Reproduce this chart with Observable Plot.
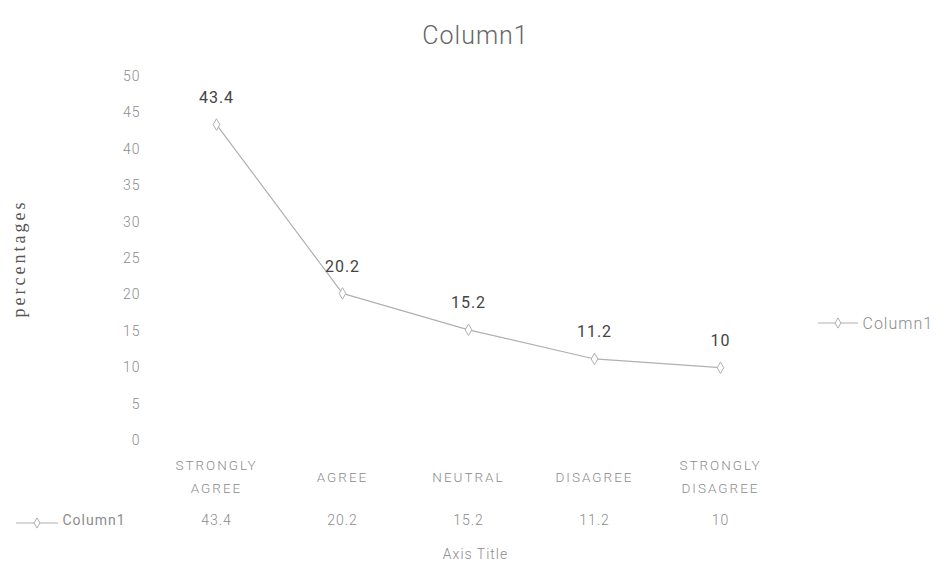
<!DOCTYPE html>
<html>
<head>
<meta charset="utf-8">
<script src="https://cdn.jsdelivr.net/npm/d3@7"></script>
<script src="https://cdn.jsdelivr.net/npm/@observablehq/plot@0.6"></script>
<style>
  html, body { margin: 0; padding: 0; background: #fff; }
  #chart { width: 948px; height: 572px; overflow: hidden; }
</style>
</head>
<body>
<div id="chart"></div>
<script>
const categories = ["STRONGLY AGREE", "AGREE", "NEUTRAL", "DISAGREE", "STRONGLY DISAGREE"];
const categoryLabels = ["STRONGLY\nAGREE", "AGREE", "NEUTRAL", "DISAGREE", "STRONGLY\nDISAGREE"];
const values = [43.4, 20.2, 15.2, 11.2, 10];
const yTicks = [0, 5, 10, 15, 20, 25, 30, 35, 40, 45, 50];
const seriesName = "Column1";
const chartTitle = "Column1";
const xTitle = "Axis Title";
const yTitle = "percentages";

const data = categories.map((c, i) => ({cat: c, label: categoryLabels[i], value: values[i]}));

const font = "Roboto, 'Liberation Sans', sans-serif";
const lineColor = "#b0b0b0";
const textGray = "#8c8c8c";

const plot = Plot.plot({
  width: 948,
  height: 572,
  marginTop: 76,
  marginBottom: 132,
  marginLeft: 150,
  marginRight: 148,
  style: {fontFamily: font, background: "#fff"},
  x: {type: "point", domain: categories, range: [216, 720], padding: 0, axis: null},
  y: {domain: [0, 50], axis: null},
  marks: [
    Plot.axisY({ticks: yTicks, tickSize: 0, tickPadding: 10, fill: textGray, fontSize: 14, fontWeight: 300, label: null}),
    Plot.line(data, {x: "cat", y: "value", stroke: lineColor, strokeWidth: 1.2}),
    Plot.dot(data, {x: "cat", y: "value", symbol: "diamond", r: 3.5, stroke: lineColor, fill: "#fff", strokeWidth: 1}),
    Plot.text(data, {x: "cat", y: "value", text: d => String(d.value), dy: -27, fill: "#444", fontSize: 16}),
    // category labels
    Plot.text(data, {x: "cat", text: "label", frameAnchor: "bottom", dy: 34, lineAnchor: "middle", fill: textGray, fontSize: 13.5, fontWeight: 300, lineHeight: 1.7, className: "cats"}),
    // data table row
    Plot.text(data, {x: "cat", text: d => String(d.value), frameAnchor: "bottom", dy: 84, fill: textGray, fontSize: 14, fontWeight: 300}),
    Plot.text([seriesName], {frameAnchor: "bottom-left", dx: -88, dy: 84, textAnchor: "start", fill: textGray, fontSize: 14}),
    // title
    Plot.text([chartTitle], {frameAnchor: "top", dy: -50, fill: "#666", fontSize: 25, fontWeight: 300}),
    // x title
    Plot.text([xTitle], {frameAnchor: "bottom", dy: 118, fill: textGray, fontSize: 14, fontWeight: 300}),
    // y title
    Plot.text([yTitle], {frameAnchor: "left", dx: -131, rotate: -90, textAnchor: "middle", fill: "#555", fontSize: 18, fontFamily: "'Liberation Serif', serif", className: "ytitle"}),
    // legend text
    Plot.text([seriesName], {frameAnchor: "right", dx: 62, dy: 65, textAnchor: "start", fill: textGray, fontSize: 16, fontWeight: 300})
  ]
});

document.getElementById("chart").appendChild(plot);
d3.select(plot).selectAll("text").style("letter-spacing", "1px");
d3.select(plot).selectAll(".cats text").style("letter-spacing", "2px");
d3.select(plot).selectAll(".ytitle text").style("letter-spacing", "3px");

// legend keys (line + marker)
const svg = d3.select(plot);
function key(x0, x1, y) {
  const g = svg.append("g");
  g.append("line").attr("x1", x0).attr("x2", x1).attr("y1", y).attr("y2", y)
    .attr("stroke", lineColor).attr("stroke-width", 1.2);
  g.append("path").attr("d", d3.symbol(d3.symbolDiamond, 30)())
    .attr("transform", `translate(${(x0 + x1) / 2},${y})`)
    .attr("fill", "#fff").attr("stroke", lineColor);
}
key(818, 858, 323);
key(16, 58, 523);
</script>
</body>
</html>
